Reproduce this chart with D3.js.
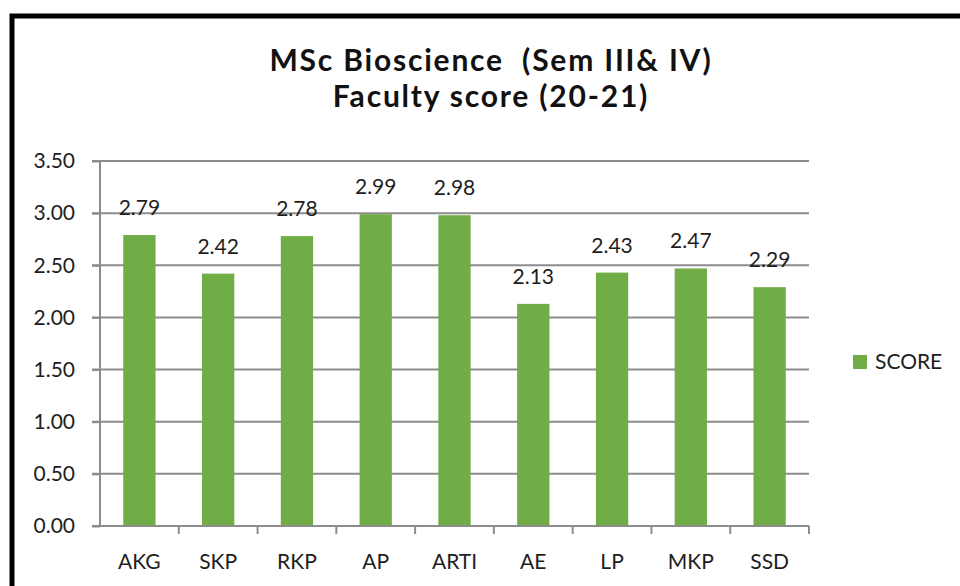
<!DOCTYPE html>
<html lang="en">
<head>
    <meta charset="UTF-8">
    <title>Faculty score</title>
    <style>
        body { margin: 0; background: #fff; }
        text { font-family: Lato, "Open Sans", sans-serif; }
    </style>
</head>
<body>
    <svg width="960" height="586"></svg>

    <script src="https://d3js.org/d3.v7.min.js"></script>
    <script>
        // chart data
        let names = ["AKG", "SKP", "RKP", "AP", "ARTI", "AE", "LP", "MKP", "SSD"];
        let scores = [2.79, 2.42, 2.78, 2.99, 2.98, 2.13, 2.43, 2.47, 2.29];
        let yTicks = [0, 0.5, 1, 1.5, 2, 2.5, 3, 3.5];
        let titleLines = ["MSc Bioscience  (Sem III& IV)", "Faculty score (20-21)"];
        let seriesName = "SCORE";

        let svg = d3.select("svg");
        let green = "#70ad47";
        let gridColor = "#8c8c8c";
        let textColor = "#1e1e1e";

        // outer frame (black border top + left)
        svg.append("path")
            .attr("d", "M12,586 V16 H960")
            .style("fill", "none")
            .style("stroke", "#000")
            .style("stroke-width", 5);

        let plotLeft = 100, plotRight = 809, plotTop = 161, plotBottom = 526;

        let x = d3.scaleBand().domain(names).range([plotLeft, plotRight]);
        let y = d3.scaleLinear().domain([0, 3.5]).range([plotBottom, plotTop]);
        let barW = x.bandwidth() * 0.41;

        // horizontal gridlines
        svg.append("g")
            .selectAll("line")
            .data(yTicks.filter(d => d > 0))
            .enter().append("line")
            .attr("x1", plotLeft - 8).attr("x2", plotRight)
            .attr("y1", d => y(d)).attr("y2", d => y(d))
            .style("stroke", gridColor)
            .style("stroke-width", 2);

        // bars
        svg.append("g")
            .selectAll("rect")
            .data(scores)
            .enter().append("rect")
            .attr("x", (d, i) => x(names[i]) + (x.bandwidth() - barW) / 2)
            .attr("y", d => y(d))
            .attr("width", barW)
            .attr("height", d => y(0) - y(d))
            .style("fill", green);

        // y axis
        svg.append("g")
            .attr("transform", "translate(" + plotLeft + ",0)")
            .call(d3.axisLeft(y).tickValues(yTicks).tickFormat(d3.format(".2f")).tickSize(8).tickPadding(17));
        // x axis
        let xAxis = svg.append("g")
            .attr("transform", "translate(0," + plotBottom + ")")
            .call(d3.axisBottom(x).tickSize(0).tickPadding(28));
        xAxis.selectAll(".tick")
            .append("line")
            .attr("x1", x.bandwidth() / 2).attr("x2", x.bandwidth() / 2)
            .attr("y1", 0).attr("y2", 8);
        xAxis.append("line")
            .attr("x1", plotLeft).attr("x2", plotLeft).attr("y1", 0).attr("y2", 8);

        svg.selectAll(".domain").remove();
        svg.append("line")
            .attr("x1", plotLeft).attr("x2", plotLeft).attr("y1", plotTop).attr("y2", plotBottom)
            .style("stroke", gridColor).style("stroke-width", 2);
        svg.append("line")
            .attr("x1", plotLeft - 8).attr("x2", plotRight).attr("y1", plotBottom).attr("y2", plotBottom)
            .style("stroke", gridColor).style("stroke-width", 2);
        svg.selectAll(".tick line").style("stroke", gridColor).style("stroke-width", 2);
        xAxis.select("line:last-child").style("stroke", gridColor).style("stroke-width", 2);
        svg.selectAll(".tick text")
            .style("font-size", "21px")
            .style("fill", textColor);

        // value labels
        svg.append("g")
            .selectAll("text")
            .data(scores)
            .enter().append("text")
            .attr("x", (d, i) => x(names[i]) + x.bandwidth() / 2)
            .attr("y", d => y(d) - 20)
            .attr("text-anchor", "middle")
            .style("font-size", "21px")
            .style("fill", textColor)
            .text(d => d.toFixed(2));

        // title
        svg.append("g")
            .selectAll("text")
            .data(titleLines)
            .enter().append("text")
            .attr("x", 491)
            .attr("y", (d, i) => 71 + i * 36)
            .attr("text-anchor", "middle")
            .style("white-space", "pre")
            .style("font-size", "30px")
            .style("letter-spacing", "1.8px")
            .style("font-weight", "bold")
            .style("fill", "#111")
            .text(d => d);

        // legend
        svg.append("rect")
            .attr("x", 853).attr("y", 355).attr("width", 14).attr("height", 14)
            .style("fill", green);
        svg.append("text")
            .attr("x", 875).attr("y", 369)
            .style("font-size", "21px")
            .style("fill", textColor)
            .text(seriesName);
    </script>
</body>
</html>
